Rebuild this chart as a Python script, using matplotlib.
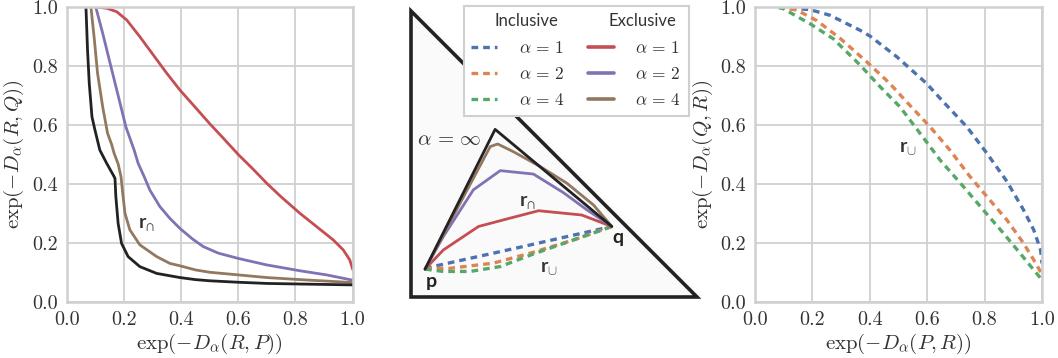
import os
import matplotlib
matplotlib.use("Agg")
import matplotlib.pyplot as plt
from matplotlib.font_manager import FontProperties
from matplotlib.lines import Line2D
from matplotlib.patches import Polygon, Rectangle
import seaborn as sns

sns.set_style("whitegrid")
plt.rcParams["font.family"] = "serif"
plt.rcParams["font.serif"] = ["cmr10", "DejaVu Serif"]
plt.rcParams["mathtext.fontset"] = "cm"
plt.rcParams["axes.formatter.use_mathtext"] = False
plt.rcParams["mathtext.bf"] = "Lato:bold"
plt.rcParams["mathtext.rm"] = "Lato"

CMR = FontProperties(fname=os.path.join(matplotlib.get_data_path(), "fonts", "ttf", "cmr10.ttf"),
                     size=14.5)

BLUE, ORANGE, GREEN = "#4C72B0", "#DD8452", "#55A868"
RED, PURPLE, BROWN = "#C44E52", "#8172B3", "#937860"
BLACK = "#222222"
GRID = "#d0d0d0"
TXT = "#333333"
DASH = (0, (2, 1.5))

# ---- left panel: exclusive projections ----
excl1_x = [0.11, 0.14, 0.175, 0.21, 0.256, 0.303, 0.35, 0.396, 0.45, 0.5, 0.55, 0.6,
           0.65, 0.7, 0.75, 0.816, 0.874, 0.932, 0.967, 0.99, 1.0]
excl1_y = [1.0, 0.997, 0.985, 0.957, 0.90, 0.838, 0.776, 0.719, 0.66, 0.605, 0.553, 0.50,
           0.452, 0.402, 0.356, 0.30, 0.255, 0.21, 0.176, 0.142, 0.11]
excl2_x = [0.102, 0.126, 0.155, 0.184, 0.207, 0.236, 0.25, 0.271, 0.291, 0.326, 0.361,
           0.396, 0.44, 0.478, 0.53, 0.6, 0.699, 0.816, 0.909, 1.0]
excl2_y = [1.0, 0.912, 0.798, 0.685, 0.594, 0.515, 0.47, 0.425, 0.379, 0.323, 0.283,
           0.249, 0.213, 0.187, 0.165, 0.147, 0.125, 0.105, 0.091, 0.073]
excl4_x = [0.085, 0.097, 0.108, 0.126, 0.143, 0.157, 0.166, 0.18, 0.19, 0.197, 0.204,
           0.221, 0.256, 0.315, 0.361, 0.396, 0.45, 0.5, 0.6, 0.7, 0.816, 1.0]
excl4_y = [1.0, 0.889, 0.776, 0.662, 0.572, 0.535, 0.504, 0.468, 0.425, 0.36, 0.30,
           0.244, 0.193, 0.153, 0.13, 0.122, 0.108, 0.10, 0.091, 0.082, 0.075, 0.065]
exclinf_x = [0.0675, 0.073, 0.079, 0.0885, 0.099, 0.116, 0.14, 0.163, 0.169, 0.172,
             0.18, 0.192, 0.215, 0.256, 0.315, 0.361, 0.396, 0.45, 0.5, 0.6, 0.7, 0.816, 1.0]
exclinf_y = [1.0, 0.855, 0.742, 0.628, 0.583, 0.515, 0.47, 0.43, 0.419, 0.357,
             0.266, 0.198, 0.153, 0.119, 0.096, 0.088, 0.082, 0.075, 0.071, 0.066, 0.062, 0.06, 0.057]

# ---- right panel: inclusive projections ----
incl1_x = [0.081, 0.192, 0.261, 0.366, 0.401, 0.494, 0.597, 0.656, 0.738, 0.808, 0.878, 0.936, 0.971, 0.995, 1.0]
incl1_y = [1.0, 0.992, 0.973, 0.922, 0.902, 0.832, 0.742, 0.679, 0.594, 0.504, 0.408, 0.311, 0.244, 0.176, 0.13]
incl2_x = [0.081, 0.145, 0.215, 0.296, 0.389, 0.47, 0.528, 0.61, 0.679, 0.749, 0.808, 0.878, 0.936, 0.971, 1.0]
incl2_y = [1.0, 0.991, 0.955, 0.895, 0.815, 0.741, 0.679, 0.594, 0.515, 0.425, 0.357, 0.277, 0.198, 0.142, 0.093]
incl4_x = [0.081, 0.099, 0.192, 0.273, 0.366, 0.436, 0.505, 0.575, 0.645, 0.726, 0.796, 0.866, 0.924, 0.971, 1.0]
incl4_y = [1.0, 0.995, 0.944, 0.893, 0.804, 0.73, 0.662, 0.572, 0.481, 0.391, 0.311, 0.232, 0.164, 0.108, 0.074]

# ---- middle panel: paths on the simplex (p -> q) ----
simplex_x = [0.0, 0.0, 1.0]
simplex_y = [1.0, 0.0, 0.0]
path_inf_x = [0.049, 0.294, 0.702]
path_inf_y = [0.099, 0.587, 0.248]
path_e4_x = [0.049, 0.277, 0.303, 0.358, 0.452, 0.545, 0.638, 0.702]
path_e4_y = [0.099, 0.527, 0.536, 0.509, 0.457, 0.399, 0.323, 0.248]
path_e2_x = [0.049, 0.113, 0.218, 0.312, 0.428, 0.533, 0.615, 0.702]
path_e2_y = [0.099, 0.213, 0.376, 0.443, 0.431, 0.366, 0.306, 0.248]
path_e1_x = [0.049, 0.113, 0.236, 0.323, 0.446, 0.597, 0.702]
path_e1_y = [0.099, 0.166, 0.248, 0.271, 0.303, 0.288, 0.248]
path_i1_x = [0.049, 0.37, 0.702]
path_i1_y = [0.102, 0.173, 0.248]
path_i2_x = [0.049, 0.137, 0.288, 0.428, 0.568, 0.702]
path_i2_y = [0.102, 0.102, 0.12, 0.158, 0.201, 0.248]
path_i4_x = [0.049, 0.113, 0.207, 0.312, 0.428, 0.568, 0.702]
path_i4_y = [0.099, 0.091, 0.091, 0.108, 0.152, 0.201, 0.248]

ticks = [0.0, 0.2, 0.4, 0.6, 0.8, 1.0]
tick_labels = ["0.0", "0.2", "0.4", "0.6", "0.8", "1.0"]
LW = 2.0

fig = plt.figure(figsize=(10.58, 3.58), dpi=100)
ax_l = fig.add_axes([0.0630, 0.1573, 0.2703, 0.8223])
ax_m = fig.add_axes([0.3885, 0.1690, 0.2703, 0.8000])
ax_r = fig.add_axes([0.7136, 0.1573, 0.2713, 0.8223])


def style(ax):
    ax.set_xlim(0, 1)
    ax.set_ylim(0, 1)
    ax.set_xticks(ticks, tick_labels)
    ax.set_yticks(ticks, tick_labels)
    ax.tick_params(colors=TXT, pad=3)
    for lab in ax.get_xticklabels() + ax.get_yticklabels():
        lab.set_fontproperties(CMR)
    ax.grid(True, color=GRID, lw=1.3)
    for s in ax.spines.values():
        s.set_color(GRID)
        s.set_linewidth(1.8)


style(ax_l)
ax_l.plot(excl1_x, excl1_y, color=RED, lw=LW)
ax_l.plot(excl2_x, excl2_y, color=PURPLE, lw=LW)
ax_l.plot(excl4_x, excl4_y, color=BROWN, lw=LW)
ax_l.plot(exclinf_x, exclinf_y, color=BLACK, lw=LW)
ax_l.text(0.25, 0.265, r"$\mathbf{r}_{\cap}$", fontsize=14, math_fontfamily="custom",
          color=TXT, va="center", ha="left")
ax_l.set_xlabel(r"$\exp(-D_\alpha(R,P))$", fontsize=15, color=TXT, labelpad=2)
ax_l.set_ylabel(r"$\exp(-D_\alpha(R,Q))$", fontsize=15, color=TXT, labelpad=4)

style(ax_r)
ax_r.plot(incl1_x, incl1_y, color=BLUE, lw=LW + 0.4, ls=DASH)
ax_r.plot(incl2_x, incl2_y, color=ORANGE, lw=LW + 0.4, ls=DASH)
ax_r.plot(incl4_x, incl4_y, color=GREEN, lw=LW + 0.4, ls=DASH)
ax_r.text(0.50, 0.52, r"$\mathbf{r}_{\cup}$", fontsize=14, math_fontfamily="custom",
          color=TXT, va="center", ha="left")
ax_r.set_xlabel(r"$\exp(-D_\alpha(P,R))$", fontsize=15, color=TXT, labelpad=2)
ax_r.set_ylabel(r"$\exp(-D_\alpha(Q,R))$", fontsize=15, color=TXT, labelpad=4)

# middle: simplex
ax_m.set_xlim(0, 1)
ax_m.set_ylim(0, 1)
ax_m.axis("off")
ax_m.add_patch(Polygon(list(zip(simplex_x, simplex_y)), closed=True,
                       facecolor="#fafafa", edgecolor=BLACK, lw=2.6,
                       clip_on=False, joinstyle="miter"))
ax_m.plot(path_i1_x, path_i1_y, color=BLUE, lw=LW + 0.4, ls=DASH)
ax_m.plot(path_i2_x, path_i2_y, color=ORANGE, lw=LW + 0.4, ls=DASH)
ax_m.plot(path_i4_x, path_i4_y, color=GREEN, lw=LW + 0.4, ls=DASH)
ax_m.plot(path_e1_x, path_e1_y, color=RED, lw=LW)
ax_m.plot(path_e2_x, path_e2_y, color=PURPLE, lw=LW)
ax_m.plot(path_e4_x, path_e4_y, color=BROWN, lw=LW)
ax_m.plot(path_inf_x, path_inf_y, color=BLACK, lw=LW)
ax_m.text(0.02, 0.55, r"$\alpha\,=\,\infty$", fontsize=15, color=TXT, va="center")
ax_m.text(0.376, 0.335, r"$\mathbf{r}_{\cap}$", fontsize=14, math_fontfamily="custom",
          color=TXT, va="center", ha="left")
ax_m.text(0.452, 0.10, r"$\mathbf{r}_{\cup}$", fontsize=14, math_fontfamily="custom",
          color=TXT, va="center", ha="left")
ax_m.text(0.071, 0.056, "p", fontsize=14, fontweight="bold", family="Lato",
          color=BLACK, ha="center", va="center")
ax_m.text(0.722, 0.21, "q", fontsize=14, fontweight="bold", family="Lato",
          color=BLACK, ha="center", va="center")

# legend: two columns with a header row
blank = Rectangle((0, 0), 1, 1, visible=False)
handles = [blank,
           Line2D([], [], color=BLUE, lw=LW + 0.4, ls=DASH),
           Line2D([], [], color=ORANGE, lw=LW + 0.4, ls=DASH),
           Line2D([], [], color=GREEN, lw=LW + 0.4, ls=DASH),
           blank,
           Line2D([], [], color=RED, lw=LW + 0.6),
           Line2D([], [], color=PURPLE, lw=LW + 0.6),
           Line2D([], [], color=BROWN, lw=LW + 0.6)]
alpha_labels = [r"$\alpha\,=\,1$", r"$\alpha\,=\,2$", r"$\alpha\,=\,4$"]
labels = [" "] + alpha_labels + [" "] + alpha_labels
leg = fig.legend(handles, labels, ncol=2, loc="upper right",
                 bbox_to_anchor=(0.6512, 0.983), bbox_transform=fig.transFigure,
                 borderaxespad=0, fontsize=12.5, frameon=True, fancybox=False,
                 handlelength=1.5, handletextpad=1.25, columnspacing=1.3,
                 labelspacing=0.6, borderpad=0.45)
leg.get_frame().set_edgecolor(GRID)
leg.get_frame().set_linewidth(1.5)
leg.get_frame().set_facecolor("white")
leg.get_frame().set_alpha(1.0)
for t in leg.get_texts():
    t.set_color(TXT)
fig.text(526 / 1058, 1 - 21 / 358, "Inclusive", family="Lato", fontsize=12,
         color=TXT, ha="center", va="center", zorder=10)
fig.text(642 / 1058, 1 - 21 / 358, "Exclusive", family="Lato", fontsize=12,
         color=TXT, ha="center", va="center", zorder=10)

fig.savefig("out.png", dpi=100)
